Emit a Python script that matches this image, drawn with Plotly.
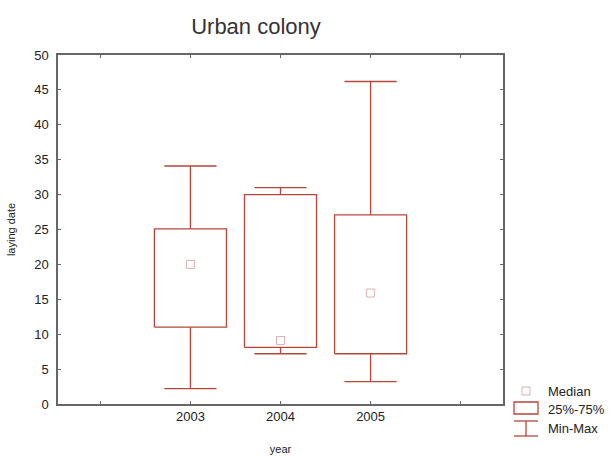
import plotly.graph_objects as go

years = [2003, 2004, 2005]
minimum = [2.2, 7.2, 3.2]
q1 = [11.0, 8.1, 7.2]
median = [20.0, 9.1, 15.9]
q3 = [25.1, 30.0, 27.1]
maximum = [34.1, 31.0, 46.2]
tick_vals = [2002, 2003, 2004, 2005, 2006]
tick_text = ["", "2003", "2004", "2005", ""]

BOX_COL = "#B5473A"
MED_COL = "#D9B3B0"
box_half = 0.4
cap_half = 0.29

fig = go.Figure()

bx, by, wx, wy = [], [], [], []
for x, lo, a, b, hi in zip(years, minimum, q1, q3, maximum):
    bx += [x - box_half, x + box_half, x + box_half, x - box_half, x - box_half, None]
    by += [a, a, b, b, a, None]
    wx += [x, x, None, x, x, None, x - cap_half, x + cap_half, None, x - cap_half, x + cap_half, None]
    wy += [a, lo, None, b, hi, None, lo, lo, None, hi, hi, None]

fig.add_trace(go.Scatter(x=wx, y=wy, mode="lines", line=dict(color=BOX_COL, width=1.3),
                         showlegend=False, hoverinfo="skip"))
fig.add_trace(go.Scatter(x=bx, y=by, mode="lines", line=dict(color=BOX_COL, width=1.3),
                         showlegend=False, hoverinfo="skip"))
fig.add_trace(go.Scatter(x=years, y=median, mode="markers",
                         marker=dict(symbol="square-open", size=8, color=MED_COL, line=dict(width=1)),
                         showlegend=False))

# legend drawn manually; convert page pixels to paper coordinates
W, H = 613, 459
L, R, T, B = 58, 110, 55, 55
def px(x):
    return (x - L) / (W - L - R)
def py(y):
    return (H - B - y) / (H - T - B)

shapes = [
    dict(type="rect", xref="paper", yref="paper", x0=px(522), x1=px(530), y0=py(395), y1=py(387),
         line=dict(color=MED_COL, width=1)),
    dict(type="rect", xref="paper", yref="paper", x0=px(514), x1=px(538), y0=py(414), y1=py(402),
         line=dict(color=BOX_COL, width=1.3)),
    dict(type="line", xref="paper", yref="paper", x0=px(514), x1=px(538), y0=py(421), y1=py(421),
         line=dict(color=BOX_COL, width=1.3)),
    dict(type="line", xref="paper", yref="paper", x0=px(526), x1=px(526), y0=py(421), y1=py(436),
         line=dict(color=BOX_COL, width=1.3)),
    dict(type="line", xref="paper", yref="paper", x0=px(514), x1=px(538), y0=py(436), y1=py(436),
         line=dict(color=BOX_COL, width=1.3)),
]
annotations = []
for label, yy in [("Median", 391), ("25%-75%", 409), ("Min-Max", 428)]:
    annotations.append(dict(text=label, xref="paper", yref="paper", x=px(546), y=py(yy),
                            xanchor="left", yanchor="middle", showarrow=False,
                            font=dict(size=13, color="#222")))

fig.update_layout(
    width=W, height=H,
    margin=dict(l=L, r=R, t=T, b=B),
    paper_bgcolor="white", plot_bgcolor="white",
    font=dict(family="Liberation Sans, Arial, sans-serif", size=13, color="#222"),
    title=dict(text="Urban colony", x=256 / W, xanchor="center", y=1 - 26 / H, yanchor="middle",
               font=dict(family="Liberation Sans, sans-serif", size=22, color="#333")),
    shapes=shapes, annotations=annotations,
    xaxis=dict(range=[2001.53, 2006.47], tickvals=tick_vals, ticktext=tick_text,
               showline=True, linecolor="#666", linewidth=1.5, mirror="ticks",
               ticks="inside", ticklen=3, tickcolor="#666", showgrid=False, zeroline=False,
               automargin=False,
               title=dict(text="year", font=dict(size=11), standoff=22)),
    yaxis=dict(range=[0, 50], tickvals=list(range(0, 51, 5)),
               showline=True, linecolor="#666", linewidth=1.5, mirror="ticks",
               ticks="inside", ticklen=3, tickcolor="#666", showgrid=False, zeroline=False,
               ticklabelstandoff=5, automargin=False,
               title=dict(text="laying date", font=dict(size=11), standoff=16)),
)

fig.write_html("out.html", config={"displayModeBar": False},
               post_script="document.body.style.margin='0';")
